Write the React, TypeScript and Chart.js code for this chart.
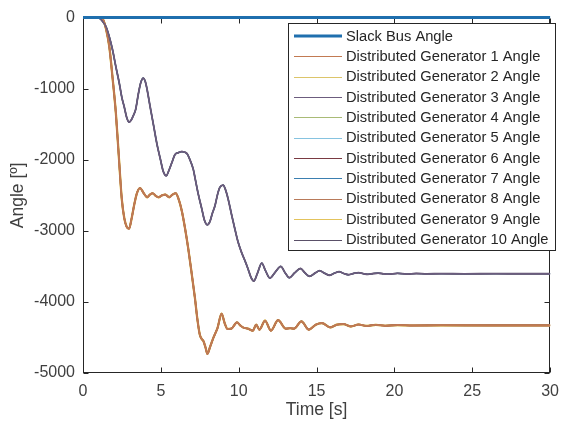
import React, { useEffect, useRef } from "react";
import { Chart, registerables } from "chart.js";

Chart.register(...registerables);

// ---- data ----
const SLACK_TIME = [0, 30];
const SLACK_ANGLE = [0, 0];

const UPPER_TIME = [
  0, 0.9, 1.06, 1.25, 1.48, 1.7, 1.9, 2.1, 2.33, 2.5, 2.64, 2.8, 2.96, 3.1, 3.25, 3.38, 3.55, 3.7, 3.87, 4.0,
  4.12, 4.3, 4.54, 4.75, 4.97, 5.15, 5.35, 5.5, 5.71, 5.9, 6.13, 6.35, 6.55, 6.7, 6.85, 7.08, 7.21, 7.4, 7.63,
  7.8, 7.99, 8.15, 8.3, 8.48, 8.65, 8.79, 9.0, 9.15, 9.32, 9.55, 9.75, 9.95, 10.17, 10.4, 10.59, 10.8, 10.97,
  11.2, 11.48, 11.72, 12.0, 12.35, 12.7, 12.98, 13.25, 13.6, 13.97, 14.25, 14.55, 14.9, 15.2, 15.5, 15.85,
  16.15, 16.45, 16.75, 17.05, 17.4, 17.7, 18.0, 18.3, 18.65, 18.95, 19.3, 19.6, 20.2, 20.8, 21.4, 22.1, 23.0,
  24.5, 26.5, 28.0, 30,
];
const UPPER_ANGLE = [
  0, 0, -10, -50, -130, -280, -456, -680, -922, -1130, -1248, -1400, -1471, -1440, -1370, -1294, -1080, -922,
  -852, -900, -1015, -1240, -1527, -1780, -1993, -2160, -2225, -2160, -2039, -1930, -1899, -1885, -1895, -1920,
  -1990, -2132, -2272, -2480, -2691, -2850, -2915, -2870, -2760, -2644, -2480, -2388, -2356, -2420, -2551,
  -2780, -2970, -3150, -3296, -3420, -3529, -3660, -3706, -3600, -3454, -3560, -3665, -3580, -3500, -3590,
  -3660, -3590, -3530, -3590, -3640, -3595, -3560, -3595, -3625, -3595, -3575, -3600, -3618, -3598, -3588,
  -3603, -3612, -3600, -3595, -3604, -3610, -3598, -3608, -3600, -3606, -3602, -3605, -3603, -3604, -3604,
];

const LOWER_TIME = [
  0, 1.1, 1.2, 1.31, 1.5, 1.69, 1.9, 2.11, 2.3, 2.49, 2.65, 2.8, 2.96, 3.1, 3.28, 3.45, 3.66, 3.9, 4.12, 4.3,
  4.48, 4.68, 4.86, 5.08, 5.28, 5.42, 5.54, 5.75, 5.96, 6.15, 6.34, 6.55, 6.76, 6.98, 7.19, 7.35, 7.5, 7.62,
  7.74, 7.88, 7.99, 8.15, 8.37, 8.5, 8.64, 8.9, 9.1, 9.28, 9.53, 9.89, 10.1, 10.27, 10.59, 10.91, 11.12,
  11.33, 11.69, 12.07, 12.53, 13.02, 13.3, 13.55, 14.03, 14.5, 14.95, 15.35, 15.87, 16.3, 16.72, 17.2, 17.7,
  18.2, 18.8, 19.4, 20.2, 21.2, 23.0, 26.0, 30,
];
const LOWER_ANGLE = [
  0, 0, -10, -37, -180, -410, -850, -1341, -1950, -2551, -2820, -2940, -2970, -2850, -2644, -2480, -2398,
  -2470, -2528, -2490, -2472, -2510, -2528, -2500, -2490, -2510, -2528, -2490, -2472, -2560, -2714, -2960,
  -3250, -3600, -3948, -4250, -4460, -4520, -4553, -4650, -4730, -4640, -4507, -4440, -4367, -4166, -4300,
  -4381, -4376, -4288, -4330, -4358, -4376, -4404, -4320, -4390, -4264, -4404, -4256, -4376, -4370, -4376,
  -4274, -4390, -4320, -4298, -4358, -4320, -4311, -4345, -4318, -4338, -4322, -4335, -4326, -4332, -4329,
  -4330, -4330,
];

const X_TICKS = [0, 5, 10, 15, 20, 25, 30];
const Y_TICKS = [0, -1000, -2000, -3000, -4000, -5000];

const SERIES_NAMES = [
  "Slack Bus Angle",
  "Distributed Generator 1 Angle",
  "Distributed Generator 2 Angle",
  "Distributed Generator 3 Angle",
  "Distributed Generator 4 Angle",
  "Distributed Generator 5 Angle",
  "Distributed Generator 6 Angle",
  "Distributed Generator 7 Angle",
  "Distributed Generator 8 Angle",
  "Distributed Generator 9 Angle",
  "Distributed Generator 10 Angle",
];
const SERIES_COLORS = [
  "#1f6fae",
  "#c27a52",
  "#dcc56a",
  "#6c5c7e",
  "#a9bb76",
  "#86c3e0",
  "#7a3a42",
  "#3b7fb0",
  "#b87a5a",
  "#e3c35c",
  "#5a5068",
];
const SERIES_GROUP = ["slack", "lower", "lower", "upper", "upper", "upper", "lower", "upper", "lower", "lower", "upper"];
const SERIES_ORDER = [0, 2, 9, 1, 8, 7, 6, 5, 4, 10, 3];
const SERIES_WIDTH = [3, 1.5, 2.2, 1.5, 1.2, 1.2, 1.6, 1.2, 1.8, 2.2, 1.8];

const FONT = "'Liberation Sans', Arial, Helvetica, sans-serif";

function pts(xs: number[], ys: number[]) {
  return xs.map((x, i) => ({ x, y: ys[i] }));
}

const framePlugin = {
  id: "matlabFrame",
  beforeDatasetsDraw(chart: any) {
    const { ctx, chartArea } = chart;
    const xs = chart.scales.x;
    const ys = chart.scales.y;
    const L = Math.round(chartArea.left) + 0.5;
    const R = Math.round(chartArea.right) - 0.5;
    const T = Math.round(chartArea.top) + 0.5;
    const B = Math.round(chartArea.bottom) - 0.5;
    ctx.save();
    ctx.strokeStyle = "#262626";
    ctx.lineWidth = 1;
    ctx.strokeRect(L, T, R - L, B - T);
    const tl = 5;
    ctx.beginPath();
    X_TICKS.forEach((v) => {
      const px = Math.round(xs.getPixelForValue(v)) + 0.5;
      ctx.moveTo(px, B);
      ctx.lineTo(px, B - tl);
      ctx.moveTo(px, T);
      ctx.lineTo(px, T + tl);
    });
    Y_TICKS.forEach((v) => {
      const py = Math.round(ys.getPixelForValue(v)) + 0.5;
      ctx.moveTo(L, py);
      ctx.lineTo(L + tl, py);
      ctx.moveTo(R, py);
      ctx.lineTo(R - tl, py);
    });
    ctx.stroke();
    ctx.restore();
  },
  afterDraw(chart: any) {
    const { ctx, chartArea } = chart;
    ctx.save();
    // axis titles
    ctx.fillStyle = "#404040";
    ctx.font = `17.5px ${FONT}`;
    ctx.textAlign = "center";
    ctx.textBaseline = "middle";
    ctx.fillText("Time [s]", (chartArea.left + chartArea.right) / 2, 410);
    ctx.save();
    ctx.translate(18, (chartArea.top + chartArea.bottom) / 2);
    ctx.rotate(-Math.PI / 2);
    ctx.fillText("Angle [º]", 0, 0);
    ctx.restore();

    // legend
    const bx = 288.5;
    const by = 23.5;
    const bw = 267;
    const bh = 227;
    ctx.fillStyle = "#ffffff";
    ctx.fillRect(bx, by, bw, bh);
    ctx.strokeStyle = "#262626";
    ctx.lineWidth = 1;
    ctx.strokeRect(bx, by, bw, bh);
    ctx.font = `14.7px ${FONT}`;
    ctx.textAlign = "left";
    ctx.textBaseline = "middle";
    SERIES_NAMES.forEach((name, i) => {
      const y = 36 + i * 20.35;
      ctx.strokeStyle = SERIES_COLORS[i];
      ctx.lineWidth = i === 0 ? 3 : 1;
      ctx.beginPath();
      ctx.moveTo(294, Math.round(y) + (i === 0 ? 0 : 0.5));
      ctx.lineTo(342, Math.round(y) + (i === 0 ? 0 : 0.5));
      ctx.stroke();
      ctx.fillStyle = "#262626";
      ctx.fillText(name, 346, y + 0.5);
    });
    ctx.restore();
  },
};

export default function App() {
  const ref = useRef<HTMLCanvasElement | null>(null);

  useEffect(() => {
    if (!ref.current) return;
    const datasets = SERIES_NAMES.map((name, i) => {
      const g = SERIES_GROUP[i];
      const data =
        g === "slack" ? pts(SLACK_TIME, SLACK_ANGLE) : g === "upper" ? pts(UPPER_TIME, UPPER_ANGLE) : pts(LOWER_TIME, LOWER_ANGLE);
      return {
        label: name,
        data,
        borderColor: SERIES_COLORS[i],
        backgroundColor: SERIES_COLORS[i],
        borderWidth: SERIES_WIDTH[i],
        pointRadius: 0,
        fill: false,
        cubicInterpolationMode: "monotone" as const,
        order: SERIES_ORDER[i],
        clip: false as any,
      };
    });
    const chart = new Chart(ref.current, {
      type: "line",
      data: { datasets },
      options: {
        animation: false,
        responsive: false,
        parsing: false as any,
        layout: { padding: { top: 14, right: 11, left: 0, bottom: 0 } },
        plugins: { legend: { display: false }, tooltip: { enabled: false } },
        scales: {
          x: {
            type: "linear",
            min: 0,
            max: 30,
            afterBuildTicks: (s: any) => {
              s.ticks = X_TICKS.map((v) => ({ value: v }));
            },
            ticks: {
              font: { family: FONT, size: 16 },
              color: "#404040",
              padding: 9,
              maxRotation: 0,
              callback: (v: any) => String(v),
            },
            grid: { display: false, drawTicks: false },
            border: { display: false },
            afterFit: (s: any) => {
              s.height = 52;
            },
          },
          y: {
            type: "linear",
            min: -5000,
            max: 0,
            afterBuildTicks: (s: any) => {
              s.ticks = Y_TICKS.map((v) => ({ value: v }));
            },
            ticks: {
              font: { family: FONT, size: 16 },
              color: "#404040",
              padding: 8,
              callback: (v: any) => String(v),
            },
            grid: { display: false, drawTicks: false },
            border: { display: false },
            afterFit: (s: any) => {
              s.width = 83;
            },
          },
        },
      },
      plugins: [framePlugin],
    });
    return () => chart.destroy();
  }, []);

  return (
    <div style={{ position: "fixed", left: 0, top: 0, width: 568, height: 425, background: "#fff" }}>
      <canvas ref={ref} width={568} height={425} style={{ display: "block" }} />
    </div>
  );
}
